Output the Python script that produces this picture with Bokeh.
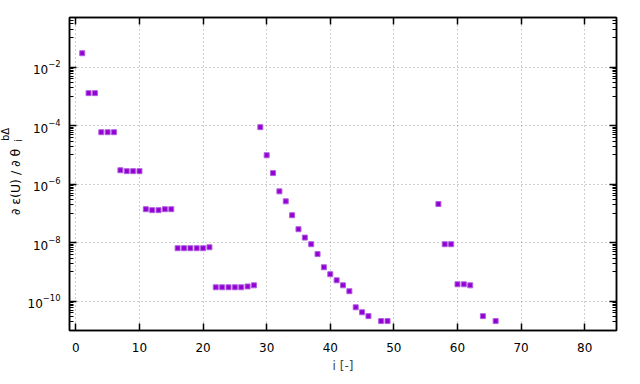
import math
from bokeh.plotting import figure
from bokeh.models import FixedTicker, LogAxis, LinearAxis, Label, Range1d, CustomLabelingPolicy
from bokeh.embed import file_html
from bokeh.resources import INLINE

# data
idx = [1, 2, 3, 4, 5, 6, 7, 8, 9, 10,
       11, 12, 13, 14, 15, 16, 17, 18, 19, 20,
       21, 22, 23, 24, 25, 26, 27, 28, 29, 30,
       31, 32, 33, 34, 35, 36, 37, 38, 39, 40,
       41, 42, 43, 44, 45, 46, 48, 49, 57, 58,
       59, 60, 61, 62, 64, 66]
deriv = [3.0e-2, 1.3e-3, 1.3e-3, 6.0e-5, 6.0e-5, 6.0e-5, 3.0e-6, 2.8e-6, 2.8e-6, 2.8e-6,
         1.4e-7, 1.3e-7, 1.3e-7, 1.4e-7, 1.4e-7, 6.5e-9, 6.5e-9, 6.5e-9, 6.5e-9, 6.5e-9,
         7.0e-9, 3.0e-10, 3.0e-10, 3.0e-10, 3.0e-10, 3.0e-10, 3.2e-10, 3.5e-10, 8.9e-5, 9.8e-6,
         2.4e-6, 5.7e-7, 2.6e-7, 8.7e-8, 2.9e-8, 1.5e-8, 8.9e-9, 4.1e-9, 1.45e-9, 8.4e-10,
         5.2e-10, 3.5e-10, 2.2e-10, 6.2e-11, 4.2e-11, 3.1e-11, 2.1e-11, 2.1e-11, 2.1e-7, 8.9e-9,
         8.9e-9, 3.8e-10, 3.8e-10, 3.5e-10, 3.1e-11, 2.1e-11]
x_ticks = [0, 10, 20, 30, 40, 50, 60, 70, 80]
y_ticks = [1e-10, 1e-8, 1e-6, 1e-4, 1e-2]

FONT = "DejaVu Sans"

p = figure(width=640, height=384, y_axis_type="log",
           x_range=Range1d(-1, 85), y_range=Range1d(1e-11, 0.5),
           output_backend="svg", toolbar_location=None,
           min_border_left=69, min_border_right=24, min_border_top=17, min_border_bottom=54)

y_minor = []
for e in range(-11, 0, 2):
    for k in range(1, 10):
        v = k * 10.0 ** e
        if 1e-11 <= v <= 0.5:
            y_minor.append(v)

xt = FixedTicker(ticks=x_ticks, minor_ticks=[])
yt = FixedTicker(ticks=y_ticks, minor_ticks=y_minor)

p.xaxis.ticker = xt
p.yaxis.ticker = yt
p.xgrid.ticker = xt
p.ygrid.ticker = yt

for g in (p.xgrid, p.ygrid):
    g.grid_line_color = "#a0a0a0"
    g.grid_line_dash = "1 3"
    g.grid_line_width = 1

p.outline_line_color = "black"
p.outline_line_width = 1.5
p.outline_line_alpha = 1
p.background_fill_color = "white"
p.border_fill_color = "white"

no_labels = CustomLabelingPolicy(code="""
    for (const i of Array.from(indices)) { indices.unset(i) }
    return indices
""")


def style(ax, labels=True):
    ax.axis_line_color = "black"
    ax.axis_line_width = 1.5
    ax.major_tick_in = 7
    ax.major_tick_out = 0
    ax.minor_tick_in = 4
    ax.minor_tick_out = 0
    ax.major_tick_line_width = 1.5
    ax.minor_tick_line_width = 1
    ax.major_label_text_font = FONT
    ax.major_label_text_font_size = "12px" if labels else "1px"
    ax.major_label_text_color = "black"
    if not labels:
        ax.major_label_policy = no_labels
        ax.major_label_standoff = 0


style(p.xaxis[0])
style(p.yaxis[0])
p.xaxis.major_label_standoff = 12
p.yaxis.major_label_standoff = 9
p.xaxis.axis_label = "i [-]"
p.xaxis.axis_label_text_font = FONT
p.xaxis.axis_label_text_font_size = "12px"
p.xaxis.axis_label_text_font_style = "normal"
p.xaxis.axis_label_standoff = 4

ra = LogAxis(ticker=yt)
style(ra, labels=False)
p.add_layout(ra, "right")
ta = LinearAxis(ticker=xt)
style(ta, labels=False)
p.add_layout(ta, "above")

p.scatter(idx, deriv, marker="square", size=5, color="#9400d3", line_color="#b060e0", line_width=1)

# y label with subscript / superscript (side-panel labels, which are not clipped)
lab_kw = dict(x_units="screen", y_units="screen", angle=math.pi / 2,
              text_align="center", text_baseline="middle", text_font=FONT, text_color="black")
p.add_layout(Label(x=6, y=148.5, text="∂ ε(U) / ∂ θ", text_font_size="12.5px", **lab_kw), "left")
p.add_layout(Label(x=-604.5, y=190, text="i", text_font_size="10px", **lab_kw), "right")
p.add_layout(Label(x=-64, y=-121, text="bΔ", text_font_size="10px", **lab_kw), "above")

open("out.html", "w").write(file_html(p, INLINE))
